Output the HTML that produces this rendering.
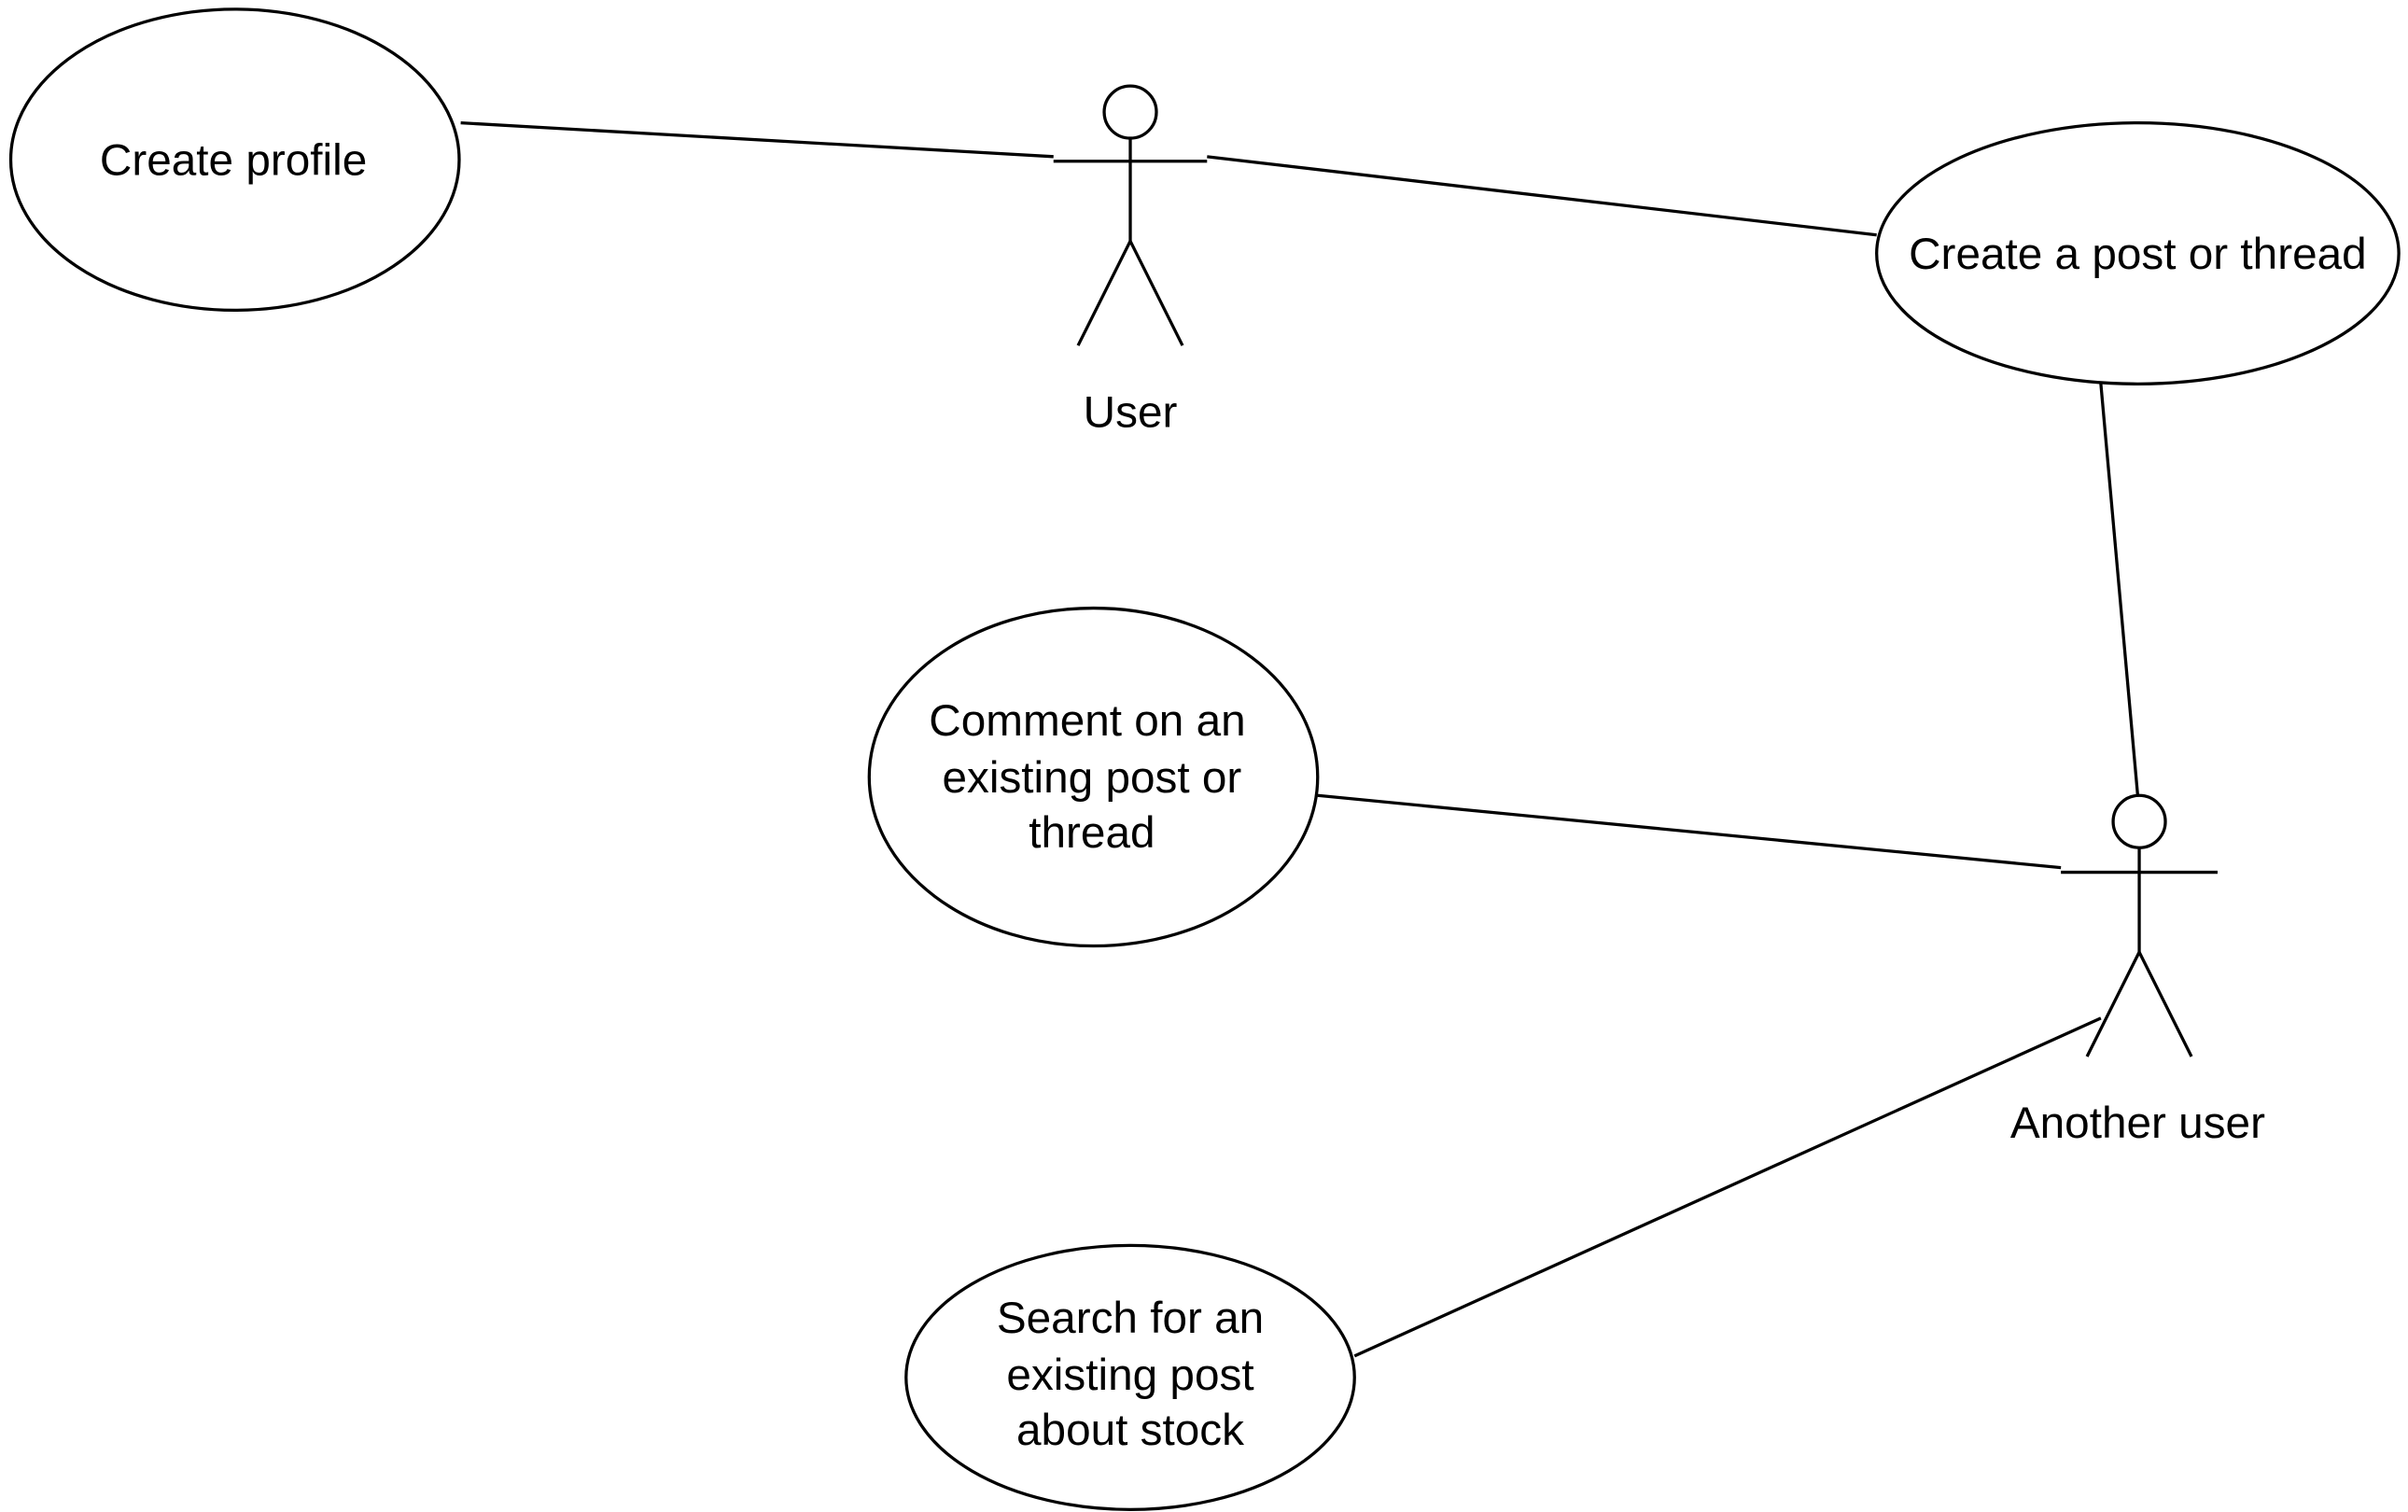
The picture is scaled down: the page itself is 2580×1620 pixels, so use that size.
<!DOCTYPE html>
<html><head><meta charset="utf-8"><style>
html,body{margin:0;padding:0;background:#fff;}
svg{display:block;}
text{font-family:"Liberation Sans",Arial,sans-serif;font-size:29px;fill:#000;}
</style></head><body>
<svg width="2580" height="1620" viewBox="0 0 1568 984.6" preserveAspectRatio="none" xmlns="http://www.w3.org/2000/svg">
<g fill="none" stroke="#000" stroke-width="2">
<ellipse cx="153" cy="104" rx="146" ry="98"/>
<ellipse cx="1392" cy="165" rx="170" ry="85"/>
<ellipse cx="712" cy="506" rx="146" ry="110"/>
<ellipse cx="736" cy="897" rx="146" ry="86"/>
<circle cx="736" cy="73" r="17"/>
<line x1="736" y1="90" x2="736" y2="157"/>
<line x1="686" y1="105" x2="786" y2="105"/>
<line x1="736" y1="157" x2="702" y2="225"/>
<line x1="736" y1="157" x2="770" y2="225"/>
<circle cx="1393" cy="535" r="17"/>
<line x1="1393" y1="552" x2="1393" y2="620"/>
<line x1="1342" y1="568" x2="1444" y2="568"/>
<line x1="1393" y1="620" x2="1359" y2="688"/>
<line x1="1393" y1="620" x2="1427" y2="688"/>
<line x1="300" y1="80" x2="686" y2="102"/>
<line x1="786" y1="102" x2="1222" y2="153"/>
<line x1="1368" y1="250" x2="1392" y2="518"/>
<line x1="858" y1="518" x2="1342" y2="565"/>
<line x1="882" y1="883" x2="1368" y2="663"/>
</g>
<g text-anchor="middle">
<text x="152" y="114">Create profile</text>
<text x="736" y="278">User</text>
<text x="1392" y="175">Create a post or thread</text>
<text x="708" y="479">Comment on an</text>
<text x="711" y="516">existing post or</text>
<text x="711" y="552">thread</text>
<text x="1392" y="741">Another user</text>
<text x="736" y="868">Search for an</text>
<text x="736" y="905">existing post</text>
<text x="736" y="941">about stock</text>
</g>
</svg>
</body></html>
